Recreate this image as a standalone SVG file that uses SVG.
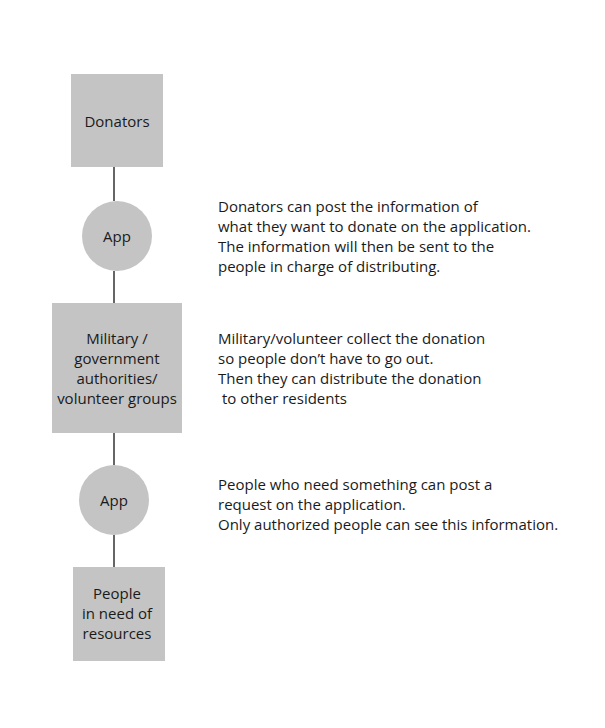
<svg xmlns="http://www.w3.org/2000/svg" width="605" height="728" viewBox="0 0 605 728">
<style>
.n{fill:#c4c4c4}
.t{font-family:"Open Sans","Noto Sans",sans-serif;font-size:15px;fill:#1a1a1a}
.c{text-anchor:middle}
.e{stroke:#666;stroke-width:2;fill:none}
</style>
<rect width="605" height="728" fill="#fff"/>
<g id="connectors">
<line class="e" x1="114" y1="167" x2="114" y2="201"/>
<line class="e" x1="114" y1="271" x2="114" y2="303"/>
<line class="e" x1="114" y1="433" x2="114" y2="465"/>
<line class="e" x1="114" y1="535" x2="114" y2="567"/>
</g>
<g id="donators">
<rect class="n" x="71" y="74" width="92" height="93"/>
<text class="t c" x="117" y="127">Donators</text>
</g>
<g id="app1">
<circle class="n" cx="117" cy="236" r="35"/>
<text class="t c" x="117" y="242">App</text>
</g>
<g id="military">
<rect class="n" x="52" y="303" width="130" height="130"/>
<text class="t c" x="117" y="344">Military /</text>
<text class="t c" x="117" y="364">government</text>
<text class="t c" x="117" y="384">authorities/</text>
<text class="t c" x="117" y="404">volunteer groups</text>
</g>
<g id="app2">
<circle class="n" cx="114" cy="500" r="35"/>
<text class="t c" x="114" y="506">App</text>
</g>
<g id="people">
<rect class="n" x="73" y="567" width="92" height="94"/>
<text class="t c" x="117" y="599">People</text>
<text class="t c" x="117" y="619">in need of</text>
<text class="t c" x="117" y="639">resources</text>
</g>
<g id="notes">
<text class="t" x="218" y="212">Donators can post the information of</text>
<text class="t" x="218" y="232">what they want to donate on the application.</text>
<text class="t" x="218" y="252">The information will then be sent to the</text>
<text class="t" x="218" y="272">people in charge of distributing.</text>
<text class="t" x="218" y="344">Military/volunteer collect the donation</text>
<text class="t" x="218" y="364">so people don’t have to go out.</text>
<text class="t" x="218" y="384">Then they can distribute the donation</text>
<text class="t" x="218" y="404" xml:space="preserve"> to other residents</text>
<text class="t" x="218" y="490">People who need something can post a</text>
<text class="t" x="218" y="510">request on the application.</text>
<text class="t" x="218" y="530">Only authorized people can see this information.</text>
</g>
</svg>
